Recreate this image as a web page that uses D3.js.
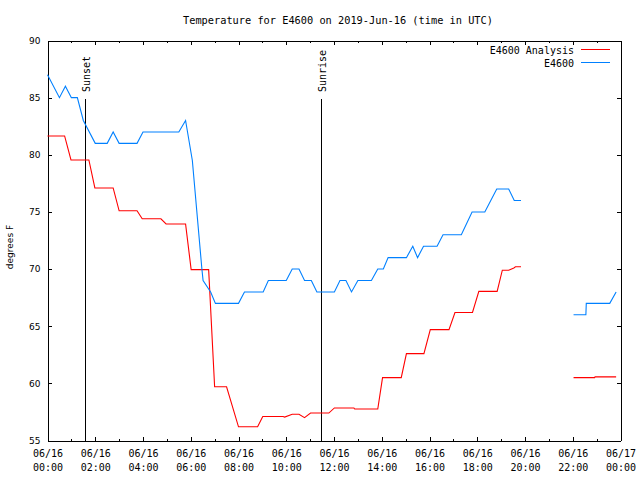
<!DOCTYPE html>
<html>
<head>
<meta charset="utf-8">
<script src="https://cdn.jsdelivr.net/npm/d3@7"></script>
<style>
  html, body { margin: 0; padding: 0; background: #fff; }
  svg { display: block; }
</style>
</head>
<body>
<svg id="chart" width="640" height="480"></svg>
<script>
// ---------------- data ----------------
const chartTitle = "Temperature for E4600 on 2019-Jun-16 (time in UTC)";
const yLabel = "degrees F";
const seriesNames = ["E4600 Analysis", "E4600"];
const seriesColors = ["#ff0000", "#0080ff"];

// Observed series "E4600" (null = gap)
const obsTimes = ["00:00","00:30","00:45","01:00","01:15","01:30","02:00","02:30","02:45","03:00",
  "03:45","04:00","05:30","05:47","06:04","06:28","06:31","06:50","07:02","08:00",
  "08:15","09:02","09:15","10:00","10:15","10:32","10:46","11:03","11:17","12:01",
  "12:15","12:30","12:44","13:00","13:34","13:50","14:04","14:16","15:02","15:18",
  "15:30","15:45","16:19","16:34","17:20","17:47","18:19","18:49","19:19","19:33",
  "19:50","21:00","22:02","22:33","22:34","23:33","23:49"];
const obsTemps = [87,85,86,85,85,83,81,81,82,81,
  81,82,82,83,79.5,70,69,68,67,67,
  68,68,69,69,70,70,69,69,68,68,
  69,69,68,69,69,70,70,71,71,72,
  71,72,72,73,73,75,75,77,77,76,
  76,null,66,66,67,67,68];

// Analysis series "E4600 Analysis" (null = gap)
const anaTimes = ["00:00","00:43","00:59","01:44","01:59","02:45","03:00","03:45","03:58","04:45",
  "04:58","05:47","06:01","06:45","07:00","07:30","08:00","08:48","09:01","09:52",
  "09:56","10:15","10:32","10:46","11:01","11:47","12:01","12:50","12:52","13:50",
  "14:02","14:49","15:02","15:46","16:02","16:49","17:04","17:48","18:04","18:50",
  "19:03","19:19","19:32","19:36","19:50","21:00","22:02","22:55","22:56","23:49"];
const anaTemps = [81.65,81.65,79.55,79.55,77.1,77.1,75.1,75.1,74.4,74.4,
  73.95,73.95,69.95,69.95,59.7,59.7,56.2,56.2,57.1,57.1,
  57.05,57.3,57.3,57.0,57.4,57.4,57.85,57.85,57.75,57.75,
  60.5,60.5,62.6,62.6,64.7,64.7,66.2,66.2,68.05,68.05,
  69.9,69.9,70.1,70.2,70.2,null,60.5,60.5,60.57,60.57];

const sunEvents = [{label: "Sunset", time: "01:35"}, {label: "Sunrise", time: "11:27"}];

const yTicks = [55, 60, 65, 70, 75, 80, 85, 90];
const xMajorHours = [0,2,4,6,8,10,12,14,16,18,20,22,24];

// ---------------- helpers ----------------
function toDate(hhmm) {
  const [h, m] = hhmm.split(":").map(Number);
  return new Date(Date.UTC(2019, 5, 16, h, m));
}
const obsData = obsTimes.map((t, i) => ({t: toDate(t), v: obsTemps[i]}));
const anaData = anaTimes.map((t, i) => ({t: toDate(t), v: anaTemps[i]}));

// ---------------- layout ----------------
const svg = d3.select("#chart");
const L = 47.5, R = 620.5, T = 40.5, B = 440.5;
const mono = "'DejaVu Sans Mono', monospace";
const sans = "'DejaVu Sans', sans-serif";

const x = d3.scaleUtc()
  .domain([new Date(Date.UTC(2019,5,16,0)), new Date(Date.UTC(2019,5,17,0))])
  .range([L, R]);
const y = d3.scaleLinear().domain([55, 90]).range([B, T]);

const hourTicks = d3.range(0, 25).map(h => new Date(Date.UTC(2019,5,16,h)));
const majorTicks = xMajorHours.map(h => new Date(Date.UTC(2019,5,16,h)));

// title
svg.append("text")
  .attr("x", 183).attr("y", 23.5)
  .attr("font-family", mono).attr("font-size", 10.3)
  .attr("fill", "#000")
  .text(chartTitle);

// y label
svg.append("text")
  .attr("transform", "translate(13,247) rotate(-90)")
  .attr("text-anchor", "middle")
  .attr("font-family", sans).attr("font-size", 9)
  .attr("fill", "#000")
  .text(yLabel);

// axes: ticks inward, mirrored
function styleAxis(g) {
  g.selectAll("line").attr("stroke", "#000").attr("shape-rendering", "crispEdges");
  g.selectAll("path").attr("stroke", "#000").attr("shape-rendering", "crispEdges");
}

// bottom minor
svg.append("g").attr("transform", `translate(0,${B})`)
  .call(d3.axisBottom(x).tickValues(hourTicks).tickSize(-2).tickSizeOuter(0).tickFormat(() => ""))
  .call(styleAxis);
// top minor
svg.append("g").attr("transform", `translate(0,${T})`)
  .call(d3.axisTop(x).tickValues(hourTicks).tickSize(-2).tickSizeOuter(0).tickFormat(() => ""))
  .call(styleAxis);
// top major
svg.append("g").attr("transform", `translate(0,${T})`)
  .call(d3.axisTop(x).tickValues(majorTicks).tickSize(-4).tickSizeOuter(0).tickFormat(() => ""))
  .call(styleAxis);
// bottom major with labels
const fmtD = d3.utcFormat("%m/%d"), fmtT = d3.utcFormat("%H:%M");
const gB = svg.append("g").attr("transform", `translate(0,${B})`)
  .call(d3.axisBottom(x).tickValues(majorTicks).tickSize(-4).tickSizeOuter(0).tickFormat(() => ""))
  .call(styleAxis);
gB.attr("font-family", mono).attr("font-size", 10);
gB.selectAll(".tick text").each(function(d) {
  const t = d3.select(this);
  t.attr("dy", null).attr("y", null).attr("fill", "#000");
  t.append("tspan").attr("x", 0).attr("y", 16.5).text(fmtD(d));
  t.append("tspan").attr("x", 0).attr("y", 30.5).text(fmtT(d));
});

// left axis with labels
const gL = svg.append("g").attr("transform", `translate(${L},0)`)
  .call(d3.axisLeft(y).tickValues(yTicks).tickSize(-4).tickSizeOuter(0).tickPadding(7).tickFormat(d3.format("d")))
  .call(styleAxis);
gL.attr("font-family", sans).attr("font-size", 9);
gL.selectAll(".tick text").attr("fill", "#000");
// right axis mirrored
svg.append("g").attr("transform", `translate(${R},0)`)
  .call(d3.axisRight(y).tickValues(yTicks).tickSize(-4).tickSizeOuter(0).tickFormat(() => ""))
  .call(styleAxis);

// sunset / sunrise
sunEvents.forEach(ev => {
  const sx = Math.round(x(toDate(ev.time))) + 0.5;
  svg.append("line")
    .attr("x1", sx).attr("x2", sx).attr("y1", 99).attr("y2", B)
    .attr("stroke", "#000").attr("stroke-width", 1).attr("shape-rendering", "crispEdges");
  svg.append("text")
    .attr("transform", `translate(${sx + 4.5},92) rotate(-90)`)
    .attr("font-family", mono).attr("font-size", 10)
    .attr("fill", "#000")
    .text(ev.label);
});

// lines
const line = d3.line()
  .defined(d => d.v != null)
  .x(d => x(d.t))
  .y(d => y(d.v));

svg.append("path").datum(anaData)
  .attr("d", line).attr("fill", "none")
  .attr("stroke", seriesColors[0]).attr("stroke-width", 1.1);
svg.append("path").datum(obsData)
  .attr("d", line).attr("fill", "none")
  .attr("stroke", seriesColors[1]).attr("stroke-width", 1.1);

// legend
const legendRows = [50, 63];
seriesNames.forEach((name, i) => {
  svg.append("text")
    .attr("x", 574).attr("y", legendRows[i] + 4)
    .attr("text-anchor", "end")
    .attr("font-family", mono).attr("font-size", 10)
    .attr("fill", "#000")
    .text(name);
  svg.append("line")
    .attr("x1", 581).attr("x2", 610)
    .attr("y1", legendRows[i] - 0.5).attr("y2", legendRows[i] - 0.5)
    .attr("stroke", seriesColors[i]).attr("stroke-width", 1.1)
    .attr("shape-rendering", "crispEdges");
});
</script>
</body>
</html>
